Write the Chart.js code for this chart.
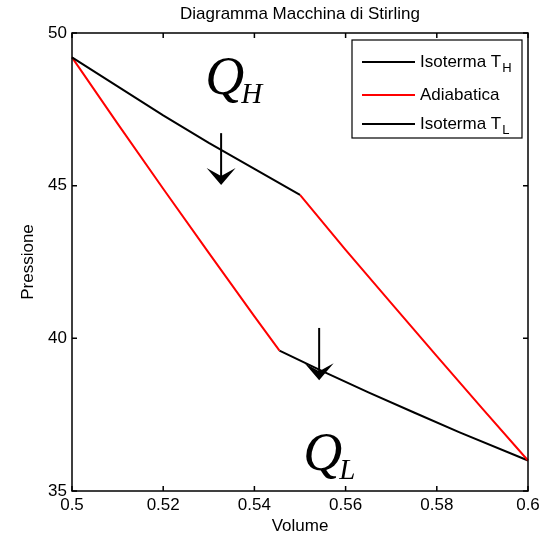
<!DOCTYPE html>
<html>
<head>
<meta charset="utf-8">
<title>Diagramma Macchina di Stirling</title>
<script src="https://cdn.jsdelivr.net/npm/chart.js@4.4.1/dist/chart.umd.min.js"></script>
<style>
  html, body { margin: 0; padding: 0; background: #fff; }
  canvas { display: block; }
</style>
</head>
<body>
<canvas id="myChart" width="539" height="537"></canvas>
<script>
// isoterma calda (V, P)
const isoTH_V = [0.5, 0.51, 0.52, 0.53, 0.54, 0.55];
const isoTH_P = [49.2, 48.25, 47.3, 46.4, 45.55, 44.7];
// adiabatiche: ramo sinistro e ramo destro
const adiabA_V = [0.5, 0.51, 0.52, 0.53, 0.54, 0.5455];
const adiabA_P = [49.2, 47.03, 44.9, 42.8, 40.72, 39.6];
const adiabB_V = [0.55, 0.56, 0.57, 0.58, 0.59, 0.6];
const adiabB_P = [44.7, 42.9, 41.15, 39.42, 37.7, 36.0];
// isoterma fredda
const isoTL_V = [0.5455, 0.555, 0.565, 0.575, 0.585, 0.6];
const isoTL_P = [39.6, 38.92, 38.23, 37.57, 36.92, 36.0];

const xTicks = [0.5, 0.52, 0.54, 0.56, 0.58, 0.6];
const xTickLabels = ['0.5', '0.52', '0.54', '0.56', '0.58', '0.6'];
const yTicks = [35, 40, 45, 50];
const yTickLabels = ['35', '40', '45', '50'];

// frecce e scritte Q (coordinate nel piano V-P)
const arrows = [
  {x: 0.5327, from: 46.72, to: 45.02},
  {x: 0.5542, from: 40.34, to: 38.63}
];
const heatLabels = [
  {text: 'Q', sub: 'H', x: 0.5292, y: 48.0},
  {text: 'Q', sub: 'L', x: 0.5507, y: 35.7}
];

function pts(vs, ps) { return vs.map((v, i) => ({x: v, y: ps[i]})); }

const SANS = "'Liberation Sans', Arial, sans-serif";
const SERIF = "'Liberation Serif', 'Times New Roman', serif";
Chart.defaults.font.family = SANS;
Chart.defaults.font.size = 17;
Chart.defaults.color = '#000';

// cornice e tacche verso l'interno, stile matlab
const axesBox = {
  id: 'axesBox',
  afterDatasetsDraw(chart) {
    const {ctx, chartArea: a, scales: {x, y}} = chart;
    ctx.save();
    ctx.strokeStyle = '#000';
    ctx.lineWidth = 1.5;
    ctx.strokeRect(a.left, a.top, a.right - a.left, a.bottom - a.top);
    ctx.beginPath();
    x.ticks.forEach((t, i) => {
      const px = x.getPixelForTick(i);
      ctx.moveTo(px, a.bottom); ctx.lineTo(px, a.bottom - 5);
      ctx.moveTo(px, a.top); ctx.lineTo(px, a.top + 5);
    });
    y.ticks.forEach((t, i) => {
      const py = y.getPixelForTick(i);
      ctx.moveTo(a.left, py); ctx.lineTo(a.left + 5, py);
      ctx.moveTo(a.right, py); ctx.lineTo(a.right - 5, py);
    });
    ctx.stroke();
    ctx.restore();
  }
};

const heatMarks = {
  id: 'heatMarks',
  afterDatasetsDraw(chart) {
    const {ctx, scales: {x, y}} = chart;
    ctx.save();
    ctx.strokeStyle = '#000';
    ctx.fillStyle = '#000';
    arrows.forEach(ar => {
      const px = x.getPixelForValue(ar.x);
      const y0 = y.getPixelForValue(ar.from);
      const y1 = y.getPixelForValue(ar.to);
      ctx.lineWidth = 2;
      ctx.beginPath();
      ctx.moveTo(px, y0);
      ctx.lineTo(px, y1 - 6);
      ctx.stroke();
      // punta a "V" con il dorso incavato
      ctx.beginPath();
      ctx.moveTo(px, y1);
      ctx.lineTo(px - 14.5, y1 - 17);
      ctx.lineTo(px, y1 - 9);
      ctx.lineTo(px + 14.5, y1 - 17);
      ctx.closePath();
      ctx.fill();
    });
    ctx.textBaseline = 'alphabetic';
    ctx.textAlign = 'left';
    heatLabels.forEach(l => {
      const px = x.getPixelForValue(l.x);
      const py = y.getPixelForValue(l.y);
      ctx.font = 'italic 54px ' + SERIF;
      ctx.fillText(l.text, px, py);
      const w = ctx.measureText(l.text).width;
      ctx.font = 'italic 29px ' + SERIF;
      ctx.fillText(l.sub, px + w - 3, py + 9);
    });
    ctx.restore();
  }
};

// legenda nel riquadro in alto a destra; "_" indica il pedice
const legendBox = {
  id: 'legendBox',
  afterDraw(chart) {
    const {ctx, chartArea: a} = chart;
    const left = a.right - 176, top = a.top + 7, w = 170, h = 98;
    const rows = [22, 55, 84];
    ctx.save();
    ctx.fillStyle = '#fff';
    ctx.fillRect(left, top, w, h);
    ctx.strokeStyle = '#000';
    ctx.lineWidth = 1.2;
    ctx.strokeRect(left, top, w, h);
    chart.data.datasets.forEach((ds, i) => {
      const cy = top + rows[i];
      ctx.strokeStyle = ds.borderColor;
      ctx.lineWidth = 2;
      ctx.beginPath();
      ctx.moveTo(left + 10, cy);
      ctx.lineTo(left + 63, cy);
      ctx.stroke();
      const [main, sub] = ds.label.split('_');
      ctx.fillStyle = '#000';
      ctx.textBaseline = 'middle';
      ctx.font = '17px ' + SANS;
      ctx.fillText(main, left + 68, cy);
      if (sub) {
        const mw = ctx.measureText(main).width;
        ctx.font = '13px ' + SANS;
        ctx.fillText(sub, left + 68 + mw + 1, cy + 6);
      }
    });
    ctx.restore();
  }
};

const ctx = document.getElementById('myChart').getContext('2d');
const myChart = new Chart(ctx, {
  type: 'scatter',
  data: {
    datasets: [
      {
        label: 'Isoterma T_H',
        data: pts(isoTH_V, isoTH_P),
        borderColor: '#000000'
      },
      {
        label: 'Adiabatica',
        data: pts(adiabA_V, adiabA_P).concat([{x: 0.548, y: null}], pts(adiabB_V, adiabB_P)),
        borderColor: '#ff0000'
      },
      {
        label: 'Isoterma T_L',
        data: pts(isoTL_V, isoTL_P),
        borderColor: '#000000'
      }
    ].map(ds => Object.assign(ds, {
      showLine: true, borderWidth: 2, pointRadius: 0, spanGaps: false, clip: 3
    }))
  },
  options: {
    responsive: false,
    animation: false,
    layout: {padding: {left: 0, right: 11, top: 0, bottom: 0}},
    plugins: {
      legend: {display: false},
      tooltip: {enabled: false},
      title: {
        display: true,
        fullSize: false,
        text: 'Diagramma Macchina di Stirling',
        color: '#000',
        font: {size: 17, weight: 'normal'},
        padding: {top: 4, bottom: 8.6}
      }
    },
    scales: {
      x: {
        type: 'linear',
        min: 0.5, max: 0.6,
        grid: {display: false, drawTicks: false},
        border: {display: false},
        afterBuildTicks: s => { s.ticks = xTicks.map(v => ({value: v})); },
        ticks: {
          padding: 4, maxRotation: 0, autoSkip: false,
          callback: (v, i) => xTickLabels[i]
        },
        title: {display: true, text: 'Volume', padding: 0},
        afterFit: s => { s.height = 46; s.paddingLeft = 0; s.paddingRight = 0; }
      },
      y: {
        type: 'linear',
        min: 35, max: 50,
        grid: {display: false, drawTicks: false},
        border: {display: false},
        afterBuildTicks: s => { s.ticks = yTicks.map(v => ({value: v})); },
        ticks: {
          padding: 5, autoSkip: false,
          callback: (v, i) => yTickLabels[i]
        },
        title: {display: true, text: 'Pressione', padding: {top: 18, bottom: 0}},
        afterFit: s => { s.width = 72; s.paddingTop = 0; s.paddingBottom = 0; }
      }
    }
  },
  plugins: [axesBox, heatMarks, legendBox]
});
</script>
</body>
</html>
